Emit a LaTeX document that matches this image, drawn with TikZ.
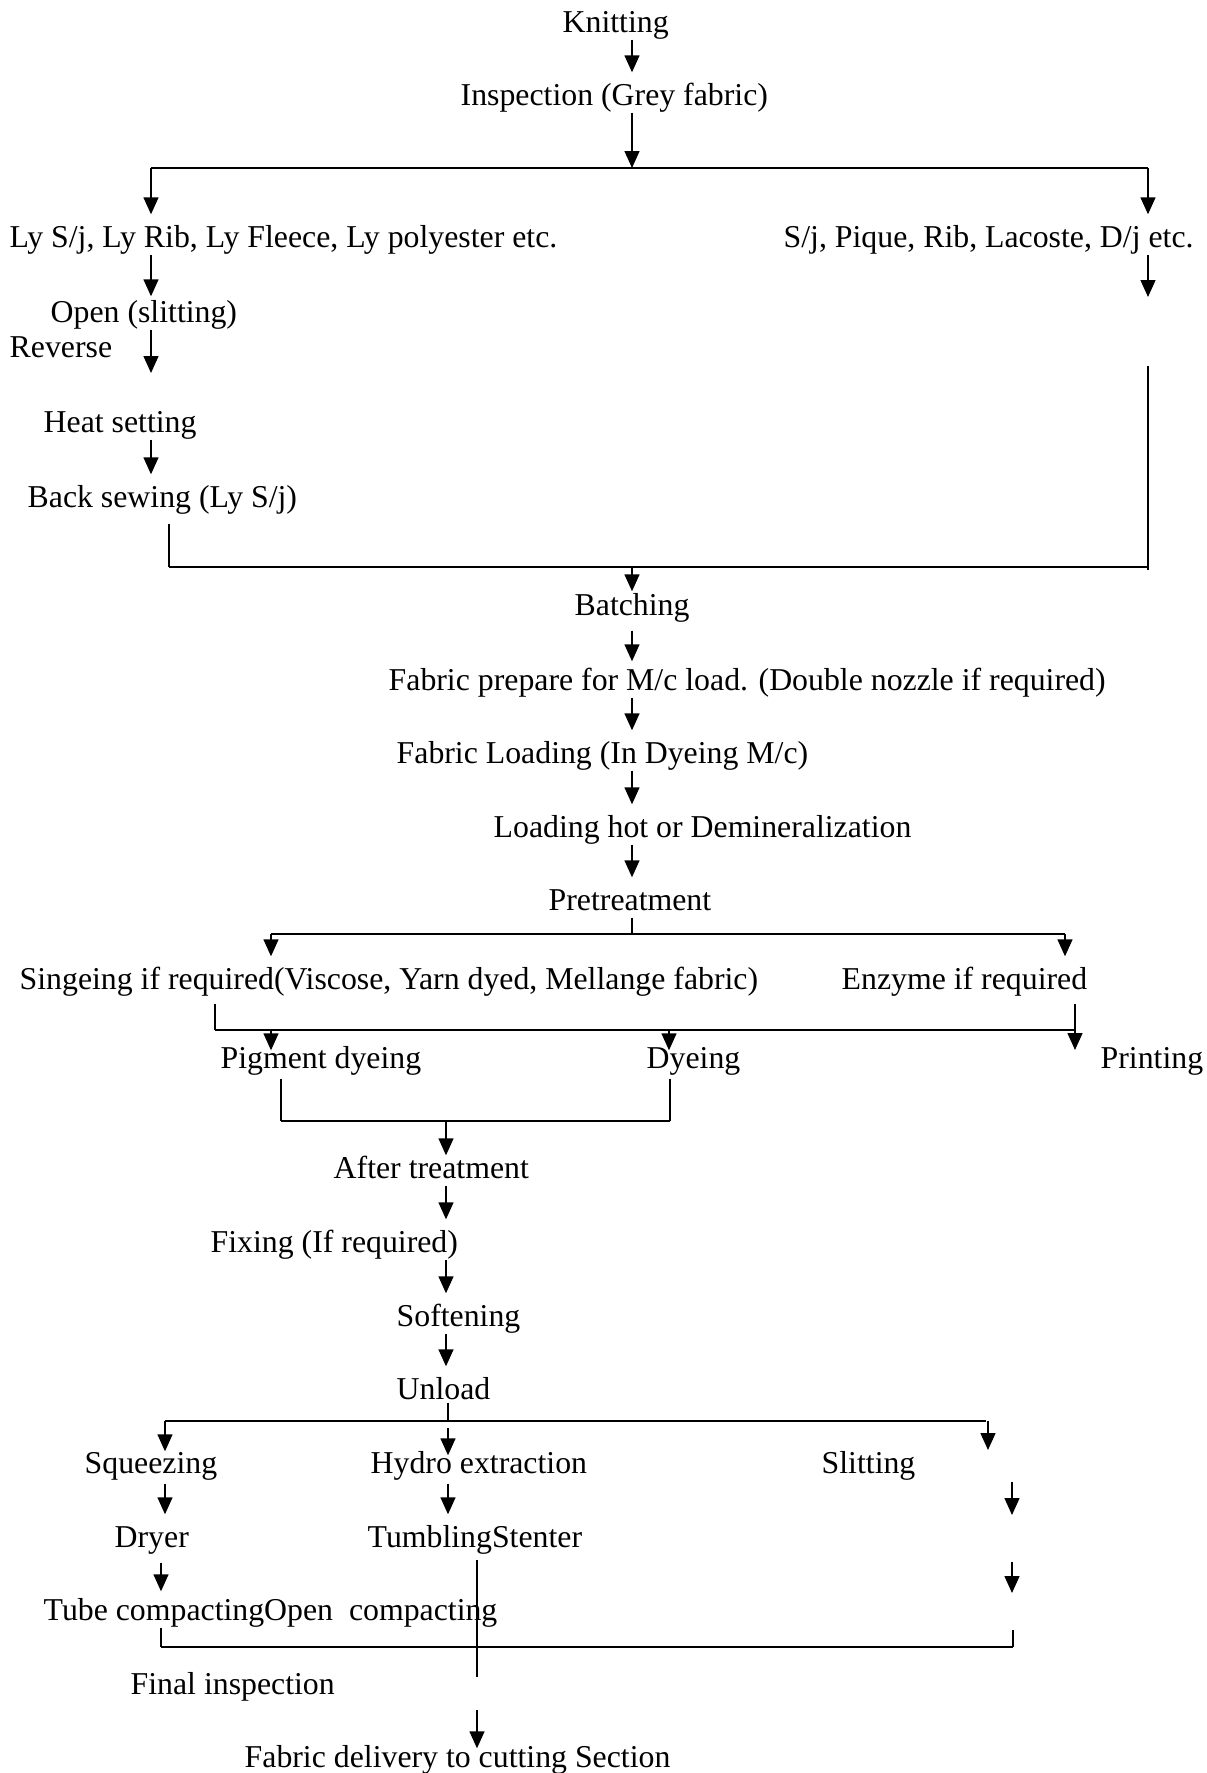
\documentclass[tikz,border=0pt]{standalone}
\usepackage{fontspec}
\setmainfont{Liberation Serif}
\usetikzlibrary{arrows.meta, calc, positioning}

\tikzset{
  stage/.style={anchor=base west, inner sep=0pt, text height=10.5pt, text depth=3.5pt,
    font=\fontsize{15.9}{18}\selectfont},
  flow/.style={->, line width=0.7pt, shorten >=5.5pt},
  bus/.style={-, line width=0.9pt},
}

\begin{document}
\begin{tikzpicture}[x=0.5pt, y=-0.5pt, line cap=butt, >={Triangle[length=8.5pt,width=7.5pt]}, line width=0.7pt]
	\useasboundingbox (0,0) rectangle (1206,1773);

	% stages
	\node[stage] (knit) at (562,32) {Knitting};
	\node[stage] (insp) at (460,105) {Inspection (Grey fabric)};
	\node[stage] (lycra) at (9,247) {Ly S/j, Ly Rib, Ly Fleece, Ly polyester etc.};
	\node[stage] (plain) at (783,247) {S/j, Pique, Rib, Lacoste, D/j etc.};
	\node[stage] (open) at (50,322) {Open (slitting)};
	\node[stage] (rev) at (9,357) {Reverse};
	\node[stage] (heat) at (43,432) {Heat setting};
	\node[stage] (back) at (27,507) {Back sewing (Ly S/j)};
	\node[stage] (batch) at (574,615) {Batching};
	\node[stage] (prep) at (388,690) {Fabric prepare for M/c load. (Double nozzle if required)};
	\node[stage] (load) at (396,763) {Fabric Loading (In Dyeing M/c)};
	\node[stage] (demin) at (493,837) {Loading hot or Demineralization};
	\node[stage] (pret) at (548,910) {Pretreatment};
	\node[stage] (singe) at (19,989) {Singeing if required(Viscose, Yarn dyed, Mellange fabric)};
	\node[stage] (enzyme) at (841,989) {Enzyme if required};
	\node[stage] (pigment) at (220,1068) {Pigment dyeing};
	\node[stage] (dye) at (646,1068) {Dyeing};
	\node[stage] (print) at (1100,1068) {Printing};
	\node[stage] (after) at (333,1178) {After treatment};
	\node[stage] (fix) at (210,1252) {Fixing (If required)};
	\node[stage] (soft) at (396,1326) {Softening};
	\node[stage] (unload) at (396,1399) {Unload};
	\node[stage] (squeeze) at (84,1473) {Squeezing};
	\node[stage] (hydro) at (370,1473) {Hydro extraction};
	\node[stage] (slit) at (821,1473) {Slitting};
	\node[stage] (dryer) at (114,1547) {Dryer};
	\node[stage] (tumble) at (367,1547) {TumblingStenter};
	\node[stage] (tube) at (43,1620) {Tube compactingOpen~ compacting};
	\node[stage] (final) at (130,1694) {Final inspection};
	\node[stage] (deliver) at (244,1767) {Fabric delivery to cutting Section};

	% knitting to the two fabric groups
	\coordinate (spine) at (632,0);
	\coordinate (b1) at (632,168);
	\coordinate (b1l) at (151,168);
	\coordinate (b1r) at (1148,168);
	\draw[flow] (knit.south -| spine) -- (insp.north -| spine);
	\draw[flow, shorten >=0pt] (insp.south -| spine) -- (b1);
	\draw[bus] (b1l) -- (b1r);
	\draw[flow] (b1l) -- (lycra.north -| b1l);
	\draw[flow] (b1r) -- (plain.north -| b1r);

	% lycra branch
	\coordinate (revend) at (151,373);
	\draw[flow, shorten >=2pt] (lycra.south -| b1l) -- (open.north -| b1l);
	\draw[flow, shorten >=0pt] (open.south -| b1l) -- (revend);
	\draw[flow] (heat.south -| b1l) -- (back.north -| b1l);

	% plain branch
	\coordinate (pend) at (1148,297);
	\coordinate (rtop) at (1148,366);
	\coordinate (rbot) at (1148,570);
	\draw[flow, shorten >=0pt] (plain.south -| b1r) -- (pend);
	\draw (rtop) -- (rbot);

	% join to batching
	\coordinate (b2l) at (169,567);
	\coordinate (b2) at (632,567);
	\draw[shorten <=4.5pt] (back.south -| b2l) -- (b2l);
	\draw[bus] (b2l) -- (rbot |- b2l);
	\draw[flow, shorten >=1pt] (b2) -- (batch.north -| spine);

	% machine loading
	\draw[flow, shorten <=4pt, shorten >=3.5pt] (batch.south -| spine) -- (prep.north -| spine);
	\draw[flow] (prep.south -| spine) -- (load.north -| spine);
	\draw[flow] (load.south -| spine) -- (demin.north -| spine);
	\draw[flow] (demin.south -| spine) -- (pret.north -| spine);

	% pretreatment split
	\coordinate (b3) at (632,934);
	\coordinate (b3l) at (271,934);
	\coordinate (b3r) at (1065,934);
	\draw (pret.south -| spine) -- (b3);
	\draw[bus] (b3l) -- (b3r);
	\draw[flow] (b3l) -- (singe.north -| b3l);
	\draw[flow] (b3r) -- (enzyme.north -| b3r);

	% dyeing / printing
	\coordinate (b4l) at (215,1030);
	\coordinate (b4r) at (1075,1030);
	\coordinate (prend) at (1075,1050);
	\coordinate (dcol) at (669,0);
	\draw[shorten <=3.5pt] (singe.south -| b4l) -- (b4l);
	\draw[flow, shorten <=3.5pt, shorten >=0pt] (enzyme.south -| b4r) -- (prend);
	\draw[bus] (b4l) -- (b4r);
	\draw[flow, shorten >=-2pt] (b4l -| b3l) -- (pigment.north -| b3l);
	\draw[flow, shorten >=-2pt] (b4l -| dcol) -- (dye.north -| dcol);

	% after treatment
	\coordinate (b5l) at (281,1121);
	\coordinate (b5r) at (670,1121);
	\coordinate (col2) at (446,1121);
	\draw[shorten <=1.5pt] (pigment.south -| b5l) -- (b5l);
	\draw[shorten <=1.5pt] (dye.south -| b5r) -- (b5r);
	\draw[bus] (b5l) -- (b5r);
	\draw[flow, shorten >=0.5pt] (col2) -- (after.north -| col2);
	\draw[flow] (after.south -| col2) -- (fix.north -| col2);
	\draw[flow] (fix.south -| col2) -- (soft.north -| col2);
	\draw[flow] (soft.south -| col2) -- (unload.north -| col2);

	% unload split
	\coordinate (b6) at (448,1421);
	\coordinate (b6l) at (165,1421);
	\coordinate (b6r) at (986,1421);
	\coordinate (rcol) at (988,0);
	\coordinate (slend) at (988,1450);
	\draw[shorten <=-2pt] (unload.south -| b6) -- (b6);
	\draw[bus] (b6l) -- (b6r);
	\draw[flow, shorten >=0pt] (b6l) -- (squeeze.north -| b6l);
	\draw[flow, shorten <=3.5pt, shorten >=-2pt] (b6) -- (hydro.north -| b6);
	\draw[flow, shorten >=0pt] (b6r -| rcol) -- (slend);

	% drying and compacting
	\coordinate (fa1) at (1012,1482);
	\coordinate (fa2) at (1012,1515);
	\coordinate (fa3) at (1012,1562);
	\coordinate (fa4) at (1012,1593);
	\draw[flow, shorten <=1.5pt] (squeeze.south -| b6l) -- (dryer.north -| b6l);
	\draw[flow, shorten <=1.5pt] (hydro.south -| b6) -- (tumble.north -| b6);
	\draw[flow, shorten >=0pt] (fa1) -- (fa2);
	\draw[flow, shorten <=4pt, shorten >=3.5pt] (dryer.south -| 161,0) -- (tube.north -| 161,0);
	\draw[flow, shorten >=0pt] (fa3) -- (fa4);

	% final inspection and delivery
	\coordinate (cut1) at (477,1560);
	\coordinate (cut2) at (477,1677);
	\coordinate (b7l) at (161,1647);
	\coordinate (b7r) at (1013,1647);
	\coordinate (b7top) at (1013,1630);
	\coordinate (dstart) at (477,1710);
	\draw (cut1) -- (cut2);
	\draw (tube.south -| b7l) -- (b7l);
	\draw (b7top) -- (b7r);
	\draw[bus] (b7l) -- (b7r);
	\draw[flow, shorten >=-1.5pt] (dstart) -- (deliver.north -| dstart);

\end{tikzpicture}
\end{document}
